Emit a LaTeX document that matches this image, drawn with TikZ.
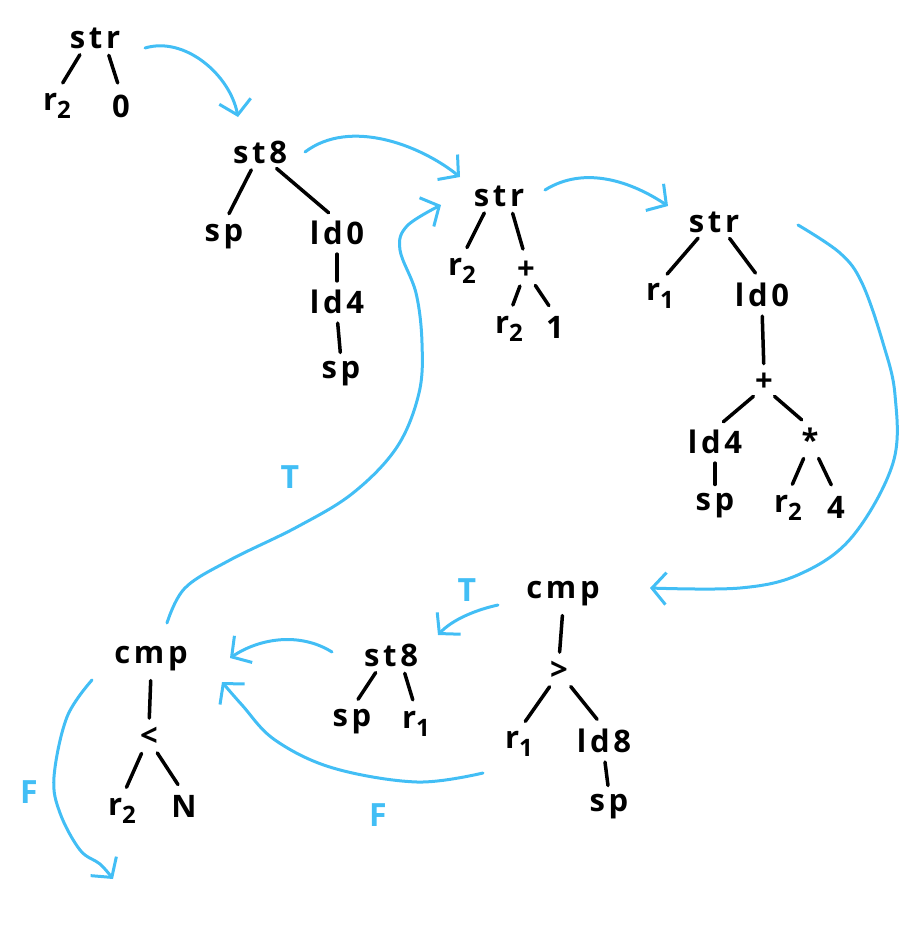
\documentclass[tikz,border=0pt]{standalone}
\usepackage{fontspec}
\setmainfont{Open Sans}[LetterSpace=12]
\usetikzlibrary{arrows.meta}
\definecolor{flowblue}{RGB}{66,190,245}
\newcommand\lowsub[1]{\raisebox{-0.45ex}{\fontsize{24}{26}\selectfont #1}}
\tikzset{
  x=1pt, y=-1pt,
  lbl/.style={font=\fontsize{31}{34}\selectfont\bfseries, inner sep=1pt},
  edge/.style={line width=3.5pt, line cap=round, shorten <=6pt, shorten >=11pt},
  vedge/.style={line width=3.5pt, line cap=round, shorten <=8pt, shorten >=8pt},
  flow/.style={draw=flowblue, line width=3pt, line cap=round, line join=round,
    -{Straight Barb[length=14pt, width=32pt, line width=3pt]}},
  tf/.style={text=flowblue, font=\fontsize{32}{36}\selectfont\bfseries, inner sep=0pt},
}
% tree edges: left child, right child (optional offset from the parent's centre), only child
\newcommand\branchL[3][12]{\draw[edge] ([xshift=-#1pt]#2.south) -- (#3.north);}
\newcommand\branchR[3][12]{\draw[edge] ([xshift=#1pt]#2.south) -- (#3.north);}
\newcommand\branchV[2]{\draw[vedge] (#1.south) -- (#2.north);}
\begin{document}
\begin{tikzpicture}
\path[use as bounding box] (0,0) rectangle (924,943);

% first store: str r2 0
\node[lbl] (s1)   at (95,38)  {str};
\node[lbl] (s1a)  at (57,106) {r\lowsub{2}};
\node[lbl] (s1b)  at (121,106) {0};
\branchL{s1}{s1a}
\branchR{s1}{s1b}

% st8 sp (ld0 (ld4 sp))
\node[lbl] (s2)   at (260,152) {st8};
\node[lbl] (s2a)  at (224,237) {sp};
\node[lbl] (s2b)  at (337,233) {ld0};
\node[lbl] (s2c)  at (337,302) {ld4};
\node[lbl] (s2d)  at (341,374) {sp};
\branchL[6]{s2}{s2a}
\branchR{s2}{s2b}
\branchV{s2b}{s2c}
\branchV{s2c}{s2d}

% str r2 (+ r2 1)
\node[lbl] (s3)   at (499,196) {str};
\node[lbl] (s3a)  at (462,271) {r\lowsub{2}};
\node[lbl] (s3b)  at (526,270) {+};
\node[lbl] (s3c)  at (509,329) {r\lowsub{2}};
\node[lbl] (s3d)  at (555,327) {1};
\branchL{s3}{s3a}
\branchR{s3}{s3b}
\branchL[4]{s3b}{s3c}
\branchR[6]{s3b}{s3d}

% str r1 (ld0 (+ (ld4 sp) (* r2 4)))
\node[lbl] (s4)   at (714,222) {str};
\node[lbl] (s4a)  at (660,296) {r\lowsub{1}};
\node[lbl] (s4b)  at (762,295) {ld0};
\node[lbl] (s4c)  at (764,382) {+};
\node[lbl] (s4d)  at (715,442) {ld4};
\node[lbl] (s4e)  at (810,440) {*};
\node[lbl] (s4f)  at (715,506) {sp};
\node[lbl] (s4g)  at (788,508) {r\lowsub{2}};
\node[lbl] (s4h)  at (836,507) {4};
\branchL{s4}{s4a}
\branchR{s4}{s4b}
\branchV{s4b}{s4c}
\branchL[6]{s4c}{s4d}
\branchR[6]{s4c}{s4e}
\branchV{s4d}{s4f}
\branchL[4]{s4e}{s4g}
\branchR[6]{s4e}{s4h}

% cmp (> r1 (ld8 sp))
\node[lbl] (c1)   at (563,594) {cmp};
\node[lbl] (c1a)  at (559,671) {>};
\node[lbl] (c1b)  at (519,744) {r\lowsub{1}};
\node[lbl] (c1c)  at (604,741) {ld8};
\node[lbl] (c1d)  at (609,807) {sp};
\branchV{c1}{c1a}
\branchL[6]{c1a}{c1b}
\branchR[8]{c1a}{c1c}
\branchV{c1c}{c1d}

% st8 sp r1
\node[lbl] (s5)   at (391,655) {st8};
\node[lbl] (s5a)  at (352,722) {sp};
\node[lbl] (s5b)  at (416,724) {r\lowsub{1}};
\branchL{s5}{s5a}
\branchR{s5}{s5b}

% cmp (< r2 N)
\node[lbl] (c2)   at (151,659) {cmp};
\node[lbl] (c2a)  at (149,737) {<};
\node[lbl] (c2b)  at (122,811) {r\lowsub{2}};
\node[lbl] (c2c)  at (184,806) {N};
\branchV{c2}{c2a}
\branchL[5]{c2a}{c2b}
\branchR[5]{c2a}{c2c}

% branch labels
\node[tf] (t1) at (467,590) {T};
\node[tf] (f1) at (378,815) {F};
\node[tf] (t2) at (290,477) {T};
\node[tf] (f2) at (29,792)  {F};

% control flow
\coordinate (e1) at (238,117);
\coordinate (e2) at (460,177);
\coordinate (e3) at (668,206);
\coordinate (e4) at (650,588);
\coordinate (e5) at (438,635);
\coordinate (e6) at (230,658);
\coordinate (e7) at (222,682);
\coordinate (e8) at (441,205);
\coordinate (e9) at (113,879);

\draw[flow] (145,48) .. controls (185,36) and (230,75) .. (e1);
\draw[flow] (305,152) .. controls (350,118) and (420,145) .. (e2);
\draw[flow] (545,190) .. controls (585,165) and (632,182) .. (e3);
\draw[flow] plot[smooth, tension=0.6] coordinates {(798,225) (840,253) (862,283) (883,343) (895,395) (893,463) (852,537) (800,574) (740,588) (e4)};
\draw[flow] (498,605) .. controls (475,610) and (452,620) .. (e5);
\draw[flow] (332,652) .. controls (300,632) and (260,638) .. (e6);
\draw[flow] plot[smooth, tension=0.6] coordinates {(483,773) (417,782) (333,768) (275,740) (242,705) (e7)};
\draw[flow] plot[smooth, tension=0.6] coordinates {(167,623) (185,588) (230,560) (297,527) (353,493) (397,447) (419,393) (422,343) (416,293) (400,250) (407,226) (e8)};
\draw[flow] plot[smooth, tension=0.6] coordinates {(92,680) (67,717) (54,777) (60,813) (80,850) (100,864) (e9)};
\end{tikzpicture}
\end{document}
